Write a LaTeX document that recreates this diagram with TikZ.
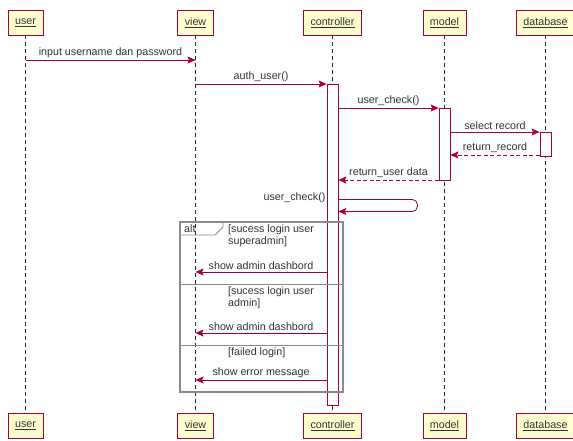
\documentclass[tikz,border=0pt]{standalone}
\usepackage{fontspec}
\setmainfont{Liberation Sans}
\usetikzlibrary{arrows.meta,positioning}
\definecolor{SeqRed}{HTML}{A80036}
\definecolor{SeqYellow}{HTML}{FEFECE}
\definecolor{SeqText}{HTML}{333333}
\definecolor{FrameGray}{HTML}{8A8A8A}

\begin{document}
\begin{tikzpicture}[x=1pt, y=-1pt, every node/.style={font=\fontsize{10.7}{12.5}\selectfont, text=SeqText}]
\tikzset{actor/.style={draw=SeqRed, fill=SeqYellow, line width=0.8pt, minimum height=25pt, inner xsep=7pt, inner ysep=0pt}}
\tikzset{act/.style={draw=SeqRed, fill=white, line width=0.8pt, minimum width=11pt, inner sep=0pt}}
\tikzset{life/.style={dash pattern=on 4pt off 3pt, black!85, line width=0.7pt}}
\tikzset{msg/.style={SeqRed, line width=0.8pt, -{Stealth[length=8pt, width=7pt, inset=1.5pt]}}}
\tikzset{reply/.style={msg, dash pattern=on 4pt off 2.5pt}}
\tikzset{lbl/.style={above, inner sep=2pt}}
\tikzset{frame/.style={draw=FrameGray, line width=1.3pt}}
\tikzset{sep/.style={draw=FrameGray, line width=0.8pt}}
\tikzset{guard/.style={anchor=north west, align=left, inner sep=0pt}}
\useasboundingbox[fill=white] (0,0) rectangle (573,441);
% lifelines, head and foot
\foreach \n/\x in {user/25.5, view/195.5, controller/332.5, model/444.5, database/545.5} {
  \node[actor] (\n) at (\x,22.5) {\underline{\n}};
  \node[actor] (\n-b) at (\x,425.5) {\underline{\n}};
  \draw[life] (\n) -- (\n-b);
}
% activations
\node[act, minimum height=321pt] (actc) at (332.5,244.5) {};
\node[act, minimum height=72pt] (actm) at (444.5,144) {};
\node[act, minimum height=24pt] (actd) at (545.5,144) {};
% alt frame
\draw[frame] (180,222) rectangle (343,392);
\draw[sep] (180,235) -- (215,235) -- (223,227) -- (223,222);
\node[anchor=west, inner sep=0pt] (alt) at (184,229) {alt};
\node[guard] (g1) at (228,224.5) {[sucess login user\\superadmin]};
\draw[sep] (180,284) -- (343,284);
\node[guard] (g2) at (228,286.5) {[sucess login user\\admin]};
\draw[sep] (180,345) -- (343,345);
\node[guard] (g3) at (228,348) {[failed login]};
% messages
\draw[msg] (user |- 0,60) -- (view |- 0,60) node[lbl, midway] {input username dan password};
\draw[msg] (view |- 0,84) -- (actc.west |- 0,84) node[lbl, midway] {auth\_user()};
\draw[msg] (actc.east |- 0,108) -- (actm.west |- 0,108) node[lbl, midway] {user\_check()};
\draw[msg] (actm.east |- 0,132) -- (actd.west |- 0,132) node[lbl, midway] {select record};
\draw[reply] (actd.west |- 0,155) -- (actm.east |- 0,155) node[lbl, midway] {return\_record};
\draw[reply] (actm.west |- 0,180) -- (actc.east |- 0,180) node[lbl, midway] {return\_user data};
\draw[SeqRed, line width=0.8pt, rounded corners=5pt] (actc.east |- 0,199.5) -- ++(79,0) -- ++(0,12) -- ++(-30,0);
\draw[msg] (actc.east |- 0,211.5) ++(50,0) -- (actc.east |- 0,211.5);
\node[anchor=east, inner sep=1pt] (selfcall) at (actc.west |- 0,197.5) {user\_check()};
\draw[msg] (actc.west |- 0,272) -- (view |- 0,272) node[lbl, midway] {show admin dashbord};
\draw[msg] (actc.west |- 0,333) -- (view |- 0,333) node[lbl, midway] {show admin dashbord};
\draw[msg] (actc.west |- 0,380) -- (view |- 0,380) node[lbl, midway] {show error message};
\end{tikzpicture}
\end{document}
